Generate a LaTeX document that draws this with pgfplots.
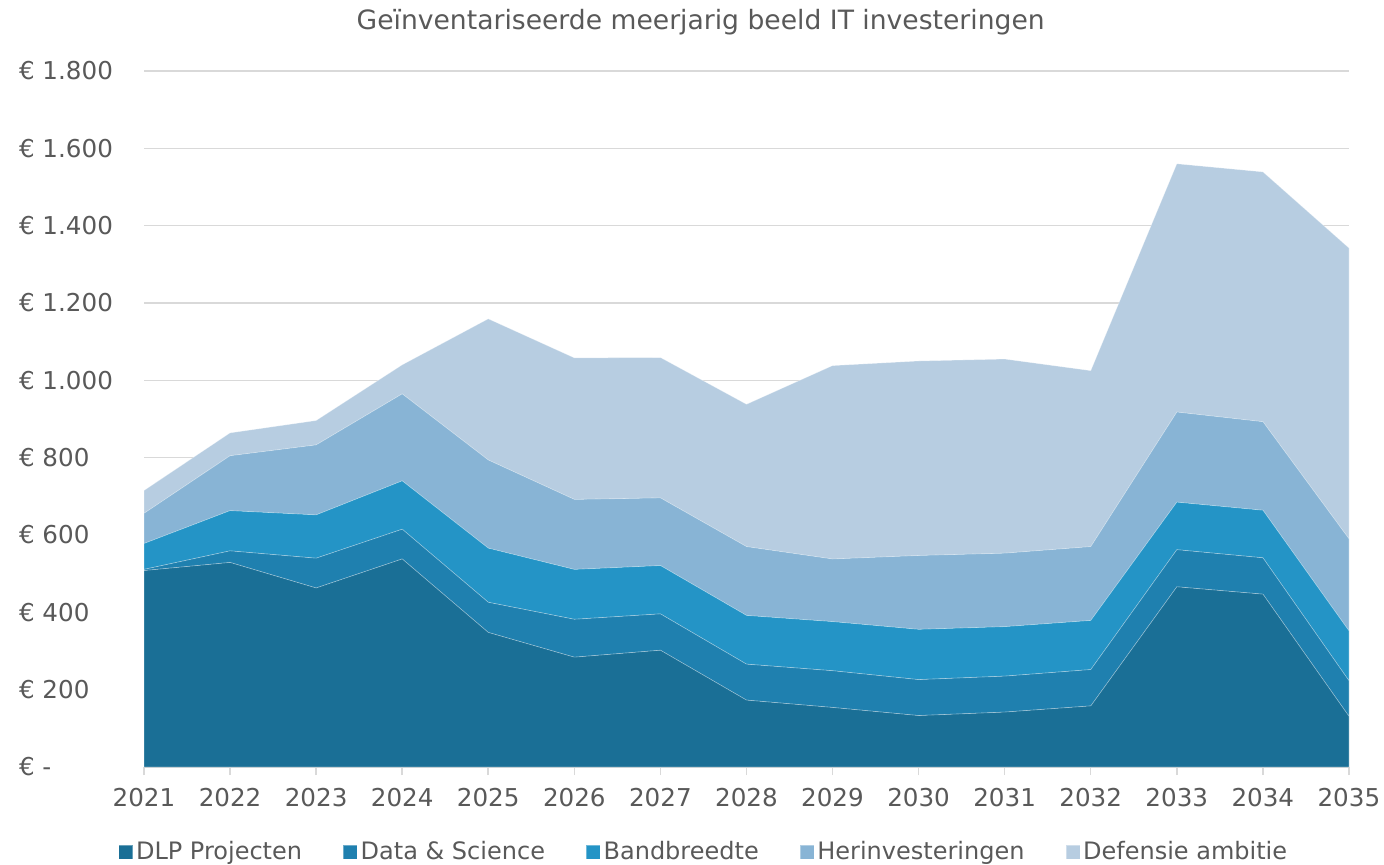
\documentclass[border=0pt]{standalone}
\usepackage{pgfplots}
\pgfplotsset{compat=1.18}
\usepackage{fontspec}
\setmainfont{DejaVu Sans}
\definecolor{dlp}{RGB}{26,111,150}
\definecolor{datasci}{RGB}{31,128,175}
\definecolor{band}{RGB}{36,148,198}
\definecolor{herinv}{RGB}{136,180,213}
\definecolor{defensie}{RGB}{183,205,225}
\definecolor{textgray}{RGB}{89,89,89}
\definecolor{gridgray}{RGB}{217,217,217}

\begin{document}
\begin{tikzpicture}
\useasboundingbox (0,0) rectangle (692bp,432.5bp);
\begin{axis}[
  at={(72bp,49bp)}, anchor=south west,
  scale only axis,
  width=602.5bp, height=348bp,
  xmin=2021, xmax=2035,
  ymin=0, ymax=1800,
  stack plots=y,
  clip=false,
  axis x line*=bottom,
  axis y line*=left,
  x axis line style={draw=gridgray, line width=0.75bp, -},
  y axis line style={draw=none},
  xtick={2021,2022,...,2035},
  xticklabels={2021,2022,2023,2024,2025,2026,2027,2028,2029,2030,2031,2032,2033,2034,2035},
  ytick={0,200,...,1800},
  yticklabels={€ -,€ 200,€ 400,€ 600,€ 800,€ 1.000,€ 1.200,€ 1.400,€ 1.600,€ 1.800},
  ymajorgrids,
  major grid style={draw=gridgray, line width=0.75bp},
  x tick style={draw=gridgray, line width=0.75bp},
  y tick style={draw=none},
  tick align=outside,
  major tick length=4bp,
  tick label style={font=\fontsize{12.3bp}{14bp}\selectfont, text=textgray},
  yticklabel style={anchor=west, xshift=-62bp},
  xticklabel style={yshift=-3bp},
  legend columns=5,
  legend style={draw=none, fill=none, at={(axis description cs:0.465,-0.122)}, anchor=center,
    font=\fontsize{12bp}{14bp}\selectfont, text=textgray,
    nodes={inner xsep=1.5bp},
    /tikz/every even column/.append style={column sep=19bp}},
  legend image code/.code={\fill[#1] (0bp,-3.5bp) rectangle (7bp,3.5bp);},
]
\addplot[fill=dlp, draw=white, draw opacity=0.35, line width=0.3bp] coordinates {
(2021,508) (2022,529) (2023,463) (2024,538) (2025,348) (2026,284) (2027,302) (2028,173)
(2029,154) (2030,133) (2031,142) (2032,158) (2033,466) (2034,447) (2035,131)} \closedcycle;
\addlegendentry{DLP Projecten}
\addplot[fill=datasci, draw=white, draw opacity=0.35, line width=0.3bp] coordinates {
(2021,3) (2022,30) (2023,77) (2024,77) (2025,78) (2026,98) (2027,94) (2028,93)
(2029,95) (2030,93) (2031,93) (2032,94) (2033,96) (2034,94) (2035,92)} \closedcycle;
\addlegendentry{Data \& Science}
\addplot[fill=band, draw=white, draw opacity=0.35, line width=0.3bp] coordinates {
(2021,67) (2022,104) (2023,112) (2024,125) (2025,140) (2026,129) (2027,125) (2028,126)
(2029,127) (2030,130) (2031,128) (2032,127) (2033,123) (2034,123) (2035,129)} \closedcycle;
\addlegendentry{Bandbreedte}
\addplot[fill=herinv, draw=white, draw opacity=0.35, line width=0.3bp] coordinates {
(2021,78) (2022,142) (2023,181) (2024,225) (2025,228) (2026,181) (2027,175) (2028,178)
(2029,162) (2030,191) (2031,190) (2032,191) (2033,233) (2034,229) (2035,238)} \closedcycle;
\addlegendentry{Herinvesteringen}
\addplot[fill=defensie, draw=white, draw opacity=0.35, line width=0.3bp] coordinates {
(2021,59) (2022,59) (2023,63) (2024,75) (2025,365) (2026,366) (2027,363) (2028,368)
(2029,500) (2030,503) (2031,502) (2032,455) (2033,642) (2034,646) (2035,752)} \closedcycle;
\addlegendentry{Defensie ambitie}
\node[font=\fontsize{13.3bp}{15bp}\selectfont, text=textgray] at (axis description cs:0.462,1.0704)
  {Geïnventariseerde meerjarig beeld IT investeringen};
\end{axis}
\end{tikzpicture}
\end{document}
